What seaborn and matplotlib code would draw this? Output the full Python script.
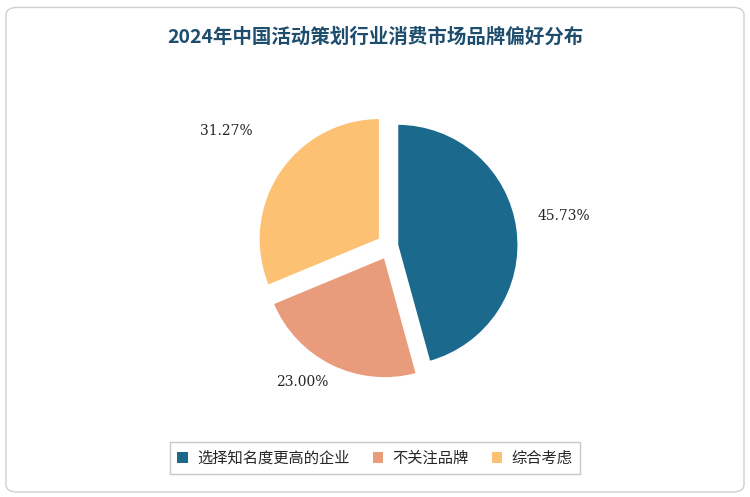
import matplotlib
matplotlib.use("Agg")
import matplotlib.pyplot as plt
from matplotlib.patches import FancyBboxPatch
import seaborn as sns

sns.set_theme(style="white")
plt.rcParams["font.family"] = ["Noto Sans CJK SC", "DejaVu Sans"]

labels = ["选择知名度更高的企业", "不关注品牌", "综合考虑"]
values = [45.73, 23.00, 31.27]
colors = sns.color_palette(["#1b6a8d", "#e99c7c", "#fdc173"])

fig = plt.figure(figsize=(7.5, 4.97), dpi=100)
fig.patches.append(FancyBboxPatch((0.008, 0.01), 0.984, 0.975, boxstyle="round,pad=0,rounding_size=0.015",
                                  transform=fig.transFigure, fill=False, edgecolor="#cfcfcf", linewidth=1))
fig.text(0.5, 0.925, "2024年中国活动策划行业消费市场品牌偏好分布", ha="center", va="center",
         fontsize=14, fontweight="bold", color="#1d4e6e")

ax = fig.add_axes([0.28, 0.2, 0.48, 0.61])
wedges, texts = ax.pie(values, colors=colors, startangle=90, counterclock=False,
                       explode=[0.06, 0.1, 0.1], radius=1.0,
                       wedgeprops=dict(edgecolor="white", linewidth=1.5))
ax.set_aspect("equal")
ax.text(1.22, 0.25, "45.73%", ha="left", va="center", fontsize=10, fontfamily="DejaVu Serif")
ax.text(-0.72, -1.12, "23.00%", ha="center", va="center", fontsize=10, fontfamily="DejaVu Serif")
ax.text(-1.35, 0.95, "31.27%", ha="center", va="center", fontsize=10, fontfamily="DejaVu Serif")

leg = fig.legend(wedges, labels, loc="center", bbox_to_anchor=(0.5, 0.078), ncol=3,
                 frameon=True, fontsize=11, handlelength=0.7, handleheight=0.7,
                 columnspacing=1.5, handletextpad=0.6, borderpad=0.5, fancybox=False)
leg.get_frame().set_edgecolor("#bbbbbb")
for h in leg.legend_handles:
    h.set_edgecolor("none")

fig.savefig("out.png", dpi=100)
